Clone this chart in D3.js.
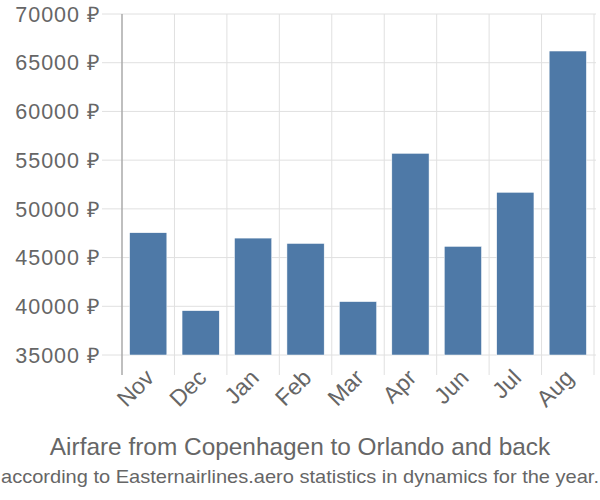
<!DOCTYPE html>
<html><head><meta charset="utf-8">
<script src="https://cdn.jsdelivr.net/npm/d3@7"></script>
<style>body{margin:0;background:#fff}</style>
</head><body>
<svg id="c" width="600" height="500"></svg>
<script>
const months = ["Nov","Dec","Jan","Feb","Mar","Apr","Jun","Jul","Aug"];
const prices = [47550, 39550, 47000, 46450, 40480, 55700, 46150, 51700, 66200];
const yTicks = [35000, 40000, 45000, 50000, 55000, 60000, 65000, 70000];
const title = "Airfare from Copenhagen to Orlando and back";
const subtitle = "according to Easternairlines.aero statistics in dynamics for the year.";

const svg = d3.select("#c");
const mLeft = 122, mRight = 594, mTop = 14, mBottom = 355;
const x = d3.scaleBand().domain(months).range([mLeft, mRight]).paddingInner(0.29).paddingOuter(0.145);
const y = d3.scaleLinear().domain([35000, 70000]).range([mBottom, mTop]);
const font = "'Liberation Sans', Arial, sans-serif";
const grid = "#e0e0e0", txt = "#666";

// horizontal grid
svg.append("g").selectAll("line").data(yTicks).join("line")
  .attr("x1", 102).attr("x2", 596)
  .attr("y1", d => y(d)).attr("y2", d => y(d))
  .attr("stroke", grid).attr("stroke-width", 1);
// vertical grid (band boundaries)
const bounds = months.map(m => x(m) - x.step()*x.paddingInner()/2).concat([mRight]);
svg.append("g").selectAll("line").data(bounds.slice(1)).join("line")
  .attr("x1", d => d).attr("x2", d => d).attr("y1", mTop).attr("y2", 375)
  .attr("stroke", grid).attr("stroke-width", 1);
// left axis line
svg.append("line").attr("x1", mLeft).attr("x2", mLeft).attr("y1", mTop).attr("y2", 375)
  .attr("stroke", "#aaa").attr("stroke-width", 1.5);

// bars
svg.append("g").selectAll("rect").data(prices).join("rect")
  .attr("x", (d,i) => x(months[i])).attr("width", x.bandwidth())
  .attr("y", d => y(d)).attr("height", d => mBottom - y(d))
  .attr("fill", "#4e79a7").attr("stroke", "#fff").attr("stroke-width", 0.5);

// y labels
svg.append("g").selectAll("text").data(yTicks).join("text")
  .attr("x", 101).attr("y", d => y(d)).attr("dy", "0.36em")
  .attr("text-anchor", "end").attr("font-family", font).attr("font-size", 21.5)
  .attr("letter-spacing", 1)
  .attr("fill", txt).text(d => d + " ₽");

// x labels
svg.append("g").selectAll("text").data(months).join("text")
  .attr("transform", m => `translate(${x(m) + x.bandwidth()/2 - 5},${367}) rotate(-45)`)
  .attr("text-anchor", "end").attr("dy", "0.75em")
  .attr("font-family", font).attr("font-size", 23).attr("fill", txt).text(m => m);

svg.append("text").attr("x", 300).attr("y", 455).attr("text-anchor", "middle")
  .attr("font-family", font).attr("font-size", 24.4).attr("fill", txt).text(title);
svg.append("text").attr("x", 300).attr("y", 483).attr("text-anchor", "middle")
  .attr("font-family", font).attr("font-size", 19).attr("fill", txt)
  .attr("textLength", 598).attr("lengthAdjust", "spacingAndGlyphs").text(subtitle);
</script>
</body></html>
